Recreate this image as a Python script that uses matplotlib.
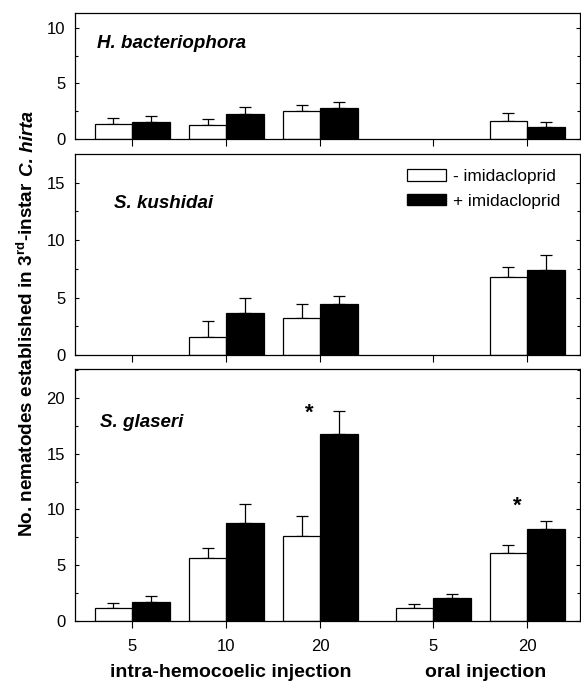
import numpy as np
import matplotlib.pyplot as plt
from matplotlib.patches import Patch

plt.rcParams['font.family'] = ['Liberation Sans', 'DejaVu Sans']
plt.rcParams['mathtext.fontset'] = 'custom'
plt.rcParams['mathtext.rm'] = 'Liberation Sans'
plt.rcParams['mathtext.bf'] = 'Liberation Sans:bold'

# x positions of groups (intra 5, 10, 20 | oral 5, 20)
pos = [1, 2, 3, 4.2, 5.2]
tick_labels = ['5', '10', '20', '5', '20']

species = ['H. bacteriophora', 'S. kushidai', 'S. glaseri']

# - imidacloprid (white), + imidacloprid (black), mean and upper error
hb_minus = [1.32, 1.23, 2.52, 0, 1.65]
hb_minus_err = [0.60, 0.54, 0.57, 0, 0.66]
hb_plus = [1.53, 2.28, 2.82, 0, 1.05]
hb_plus_err = [0.54, 0.63, 0.48, 0, 0.45]

sk_minus = [0, 1.6, 3.2, 0, 6.75]
sk_minus_err = [0, 1.37, 1.25, 0, 0.95]
sk_plus = [0, 3.69, 4.48, 0, 7.36]
sk_plus_err = [0, 1.31, 0.69, 0, 1.39]

sg_minus = [1.13, 5.67, 7.65, 1.13, 6.06]
sg_minus_err = [0.47, 0.90, 1.79, 0.39, 0.72]
sg_plus = [1.67, 8.78, 16.73, 2.06, 8.27]
sg_plus_err = [0.53, 1.68, 2.06, 0.39, 0.69]

ylims = [11.35, 17.5, 22.6]
yticks = [[0, 5, 10], [0, 5, 10, 15], [0, 5, 10, 15, 20]]

data = [
    (hb_minus, hb_minus_err, hb_plus, hb_plus_err),
    (sk_minus, sk_minus_err, sk_plus, sk_plus_err),
    (sg_minus, sg_minus_err, sg_plus, sg_plus_err),
]

fig = plt.figure(figsize=(5.81, 6.83), dpi=100)
boxes = [
    [0.129, 0.7965, 0.869, 0.1845],
    [0.129, 0.4802, 0.869, 0.2943],
    [0.129, 0.0908, 0.869, 0.3690],
]
label_xy = [(0.044, 0.76), (0.077, 0.756), (0.05, 0.786)]

w = 0.4
axes = []
for i, (m, me, p, pe) in enumerate(data):
    ax = fig.add_axes(boxes[i])
    axes.append(ax)
    x = np.array(pos)
    m = np.array(m)
    p = np.array(p)
    me = np.array(me)
    pe = np.array(pe)
    # only draw bars and error bars where there is data
    sel = m > 0
    ax.bar(x[sel] - w / 2, m[sel], w, color='white', edgecolor='black', linewidth=0.9, zorder=2)
    ax.errorbar(x[sel] - w / 2, m[sel], yerr=[np.zeros(sel.sum()), me[sel]], fmt='none',
                ecolor='black', elinewidth=0.9, capsize=4, capthick=0.9, zorder=1)
    sel = p > 0
    ax.bar(x[sel] + w / 2, p[sel], w, color='black', edgecolor='black', linewidth=0.9, zorder=2)
    ax.errorbar(x[sel] + w / 2, p[sel], yerr=[np.zeros(sel.sum()), pe[sel]], fmt='none',
                ecolor='black', elinewidth=0.9, capsize=4, capthick=0.9, zorder=1)

    ax.set_xlim(0.39, 5.76)
    ax.set_ylim(0, ylims[i])
    ax.set_yticks(yticks[i])
    ax.set_yticks(np.arange(2.5, ylims[i], 5), minor=True)
    ax.tick_params(axis='y', which='major', direction='in', length=3, width=0.8,
                   labelsize=12, pad=7, right=True)
    ax.tick_params(axis='y', which='minor', direction='in', length=2, width=0.8, right=True)
    ax.set_xticks(pos)
    ax.tick_params(axis='x', direction='out', length=5, width=0.8, labelsize=12, pad=8)
    if i < 2:
        ax.set_xticklabels([])
    else:
        ax.set_xticklabels(tick_labels)
    for s in ax.spines.values():
        s.set_linewidth(0.9)

    ax.text(label_xy[i][0], label_xy[i][1], species[i], transform=ax.transAxes,
            fontsize=13.5, fontweight='bold', style='italic', va='center')

# significance marks
axes[2].text(pos[2] - 0.12, 18.6, '*', ha='center', va='center', fontsize=16, fontweight='bold')
axes[2].text(pos[4] - 0.1, 10.3, '*', ha='center', va='center', fontsize=16, fontweight='bold')

# legend
handles = [Patch(facecolor='white', edgecolor='black', linewidth=0.9, label='- imidacloprid'),
           Patch(facecolor='black', edgecolor='black', label='+ imidacloprid')]
axes[1].legend(handles=handles, loc='upper left', bbox_to_anchor=(0.657, 0.925), frameon=False,
               fontsize=12.4, handlelength=2.27, handleheight=0.64, handletextpad=0.4,
               labelspacing=0.55, borderpad=0, borderaxespad=0)

# y label in two pieces so the species name can be bold italic
ylab_x = 0.056
t1 = fig.text(ylab_x, 0.214, r'No. nematodes established in 3$^{\mathbf{rd}}$-instar',
              rotation=90, rotation_mode='anchor', ha='left', va='baseline',
              fontsize=13.6, fontweight='bold')
fig.canvas.draw()
bb = t1.get_window_extent(renderer=fig.canvas.get_renderer())
space = 13.6 * 100 / 72 * 0.28 / fig.bbox.height
fig.text(ylab_x, bb.y1 / fig.bbox.height + space, 'C. hirta',
         rotation=90, rotation_mode='anchor', ha='left', va='baseline',
         fontsize=13.6, fontweight='bold', style='italic')

fig.text(0.398, 0.015, 'intra-hemocoelic injection', ha='center', va='center',
         fontsize=14, fontweight='bold')
fig.text(0.835, 0.015, 'oral injection', ha='center', va='center',
         fontsize=14, fontweight='bold')

fig.savefig('out.png', dpi=100)
